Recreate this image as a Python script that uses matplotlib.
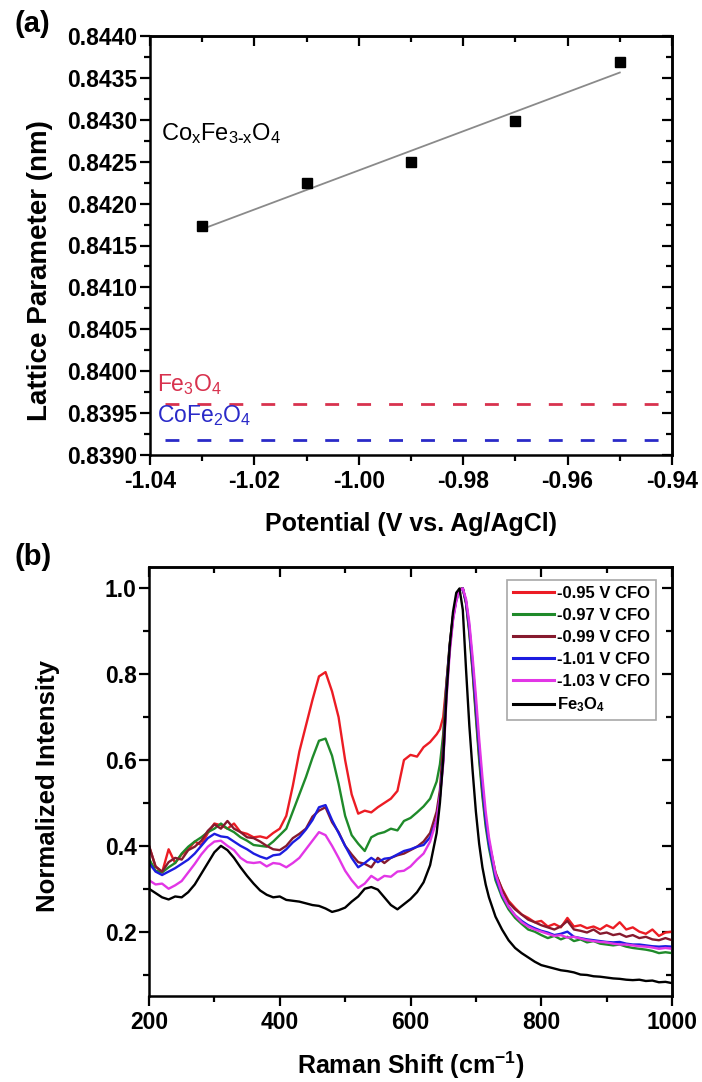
import numpy as np
import matplotlib
matplotlib.use("Agg")
import matplotlib.pyplot as plt
from matplotlib.ticker import MultipleLocator, FormatStrFormatter

plt.rcParams.update({
    "font.family": ["Liberation Sans", "DejaVu Sans"],
    "font.weight": "bold",
    "axes.unicode_minus": False,
    "mathtext.fontset": "custom",
    "mathtext.rm": "Liberation Sans",
    "mathtext.it": "Liberation Sans:italic",
    "mathtext.bf": "Liberation Sans:bold",
    "mathtext.default": "regular",
    "axes.linewidth": 1.8,
})

# ── (a) lattice parameter vs deposition potential ────────────────────────────
POTENTIAL = [-1.03, -1.01, -0.99, -0.97, -0.95]          # V vs Ag/AgCl
LATTICE = [0.84173, 0.84224, 0.84250, 0.84299, 0.84369]  # nm
A_FE3O4 = 0.83961     # bulk magnetite
A_COFE2O4 = 0.83918   # bulk cobalt ferrite

# ── (b) Raman spectra, normalized to the A1g band ────────────────────────────
RAMAN_SHIFT = np.r_[200:641:10, 645:721:5, 730:1001:10]   # cm-1

I_095 = [0.400, 0.352, 0.338, 0.392, 0.360, 0.380, 0.392, 0.410, 0.402, 0.430,
         0.452, 0.448, 0.440, 0.452, 0.432, 0.428, 0.420, 0.422, 0.418, 0.430,
         0.440, 0.470, 0.540, 0.620, 0.680, 0.740, 0.795, 0.805, 0.760, 0.700,
         0.600, 0.520, 0.475, 0.482, 0.478, 0.490, 0.500, 0.510, 0.528, 0.600,
         0.612, 0.608, 0.630, 0.642, 0.660,
         0.672, 0.700, 0.780, 0.860, 0.930, 0.975, 0.998, 1.000, 0.965, 0.900,
         0.810, 0.710, 0.610, 0.525, 0.455, 0.405,
         0.335, 0.300, 0.272, 0.255, 0.240, 0.232, 0.222, 0.225, 0.212, 0.218,
         0.210, 0.232, 0.212, 0.215, 0.208, 0.212, 0.205, 0.215, 0.208, 0.222,
         0.205, 0.210, 0.200, 0.195, 0.205, 0.190, 0.198, 0.200]

I_097 = [0.370, 0.342, 0.338, 0.350, 0.360, 0.382, 0.398, 0.410, 0.420, 0.432,
         0.440, 0.452, 0.440, 0.432, 0.420, 0.412, 0.402, 0.400, 0.398, 0.410,
         0.425, 0.440, 0.480, 0.520, 0.560, 0.605, 0.645, 0.650, 0.610, 0.545,
         0.470, 0.425, 0.405, 0.388, 0.420, 0.428, 0.432, 0.440, 0.436, 0.458,
         0.465, 0.478, 0.492, 0.510, 0.550,
         0.590, 0.660, 0.780, 0.870, 0.935, 0.975, 0.998, 1.000, 0.965, 0.895,
         0.805, 0.700, 0.600, 0.515, 0.445, 0.395,
         0.320, 0.280, 0.252, 0.232, 0.218, 0.205, 0.200, 0.192, 0.185, 0.190,
         0.182, 0.188, 0.178, 0.182, 0.175, 0.178, 0.172, 0.170, 0.168, 0.170,
         0.165, 0.162, 0.160, 0.158, 0.155, 0.150, 0.152, 0.150]

I_099 = [0.400, 0.352, 0.340, 0.362, 0.372, 0.368, 0.390, 0.398, 0.412, 0.435,
         0.450, 0.440, 0.458, 0.440, 0.432, 0.420, 0.418, 0.410, 0.400, 0.392,
         0.390, 0.400, 0.418, 0.428, 0.440, 0.468, 0.482, 0.490, 0.455, 0.432,
         0.400, 0.380, 0.362, 0.358, 0.350, 0.372, 0.360, 0.372, 0.378, 0.382,
         0.390, 0.398, 0.410, 0.430, 0.480,
         0.530, 0.640, 0.775, 0.870, 0.935, 0.975, 0.998, 1.000, 0.968, 0.905,
         0.818, 0.720, 0.620, 0.535, 0.462, 0.410,
         0.338, 0.298, 0.268, 0.252, 0.240, 0.228, 0.222, 0.215, 0.210, 0.205,
         0.212, 0.225, 0.205, 0.202, 0.198, 0.205, 0.195, 0.198, 0.192, 0.195,
         0.188, 0.192, 0.185, 0.188, 0.182, 0.180, 0.185, 0.180]

I_101 = [0.360, 0.340, 0.332, 0.340, 0.348, 0.358, 0.368, 0.382, 0.400, 0.418,
         0.428, 0.422, 0.420, 0.410, 0.400, 0.392, 0.382, 0.375, 0.370, 0.378,
         0.380, 0.392, 0.408, 0.420, 0.438, 0.460, 0.490, 0.495, 0.460, 0.430,
         0.400, 0.372, 0.350, 0.360, 0.372, 0.362, 0.370, 0.372, 0.380, 0.388,
         0.392, 0.398, 0.402, 0.420, 0.460,
         0.515, 0.600, 0.760, 0.862, 0.930, 0.972, 0.996, 1.000, 0.970, 0.910,
         0.825, 0.730, 0.630, 0.540, 0.462, 0.405,
         0.328, 0.285, 0.258, 0.238, 0.225, 0.215, 0.208, 0.202, 0.198, 0.192,
         0.195, 0.200, 0.188, 0.185, 0.182, 0.180, 0.178, 0.176, 0.175, 0.176,
         0.172, 0.170, 0.170, 0.168, 0.166, 0.165, 0.166, 0.165]

I_103 = [0.320, 0.310, 0.312, 0.300, 0.308, 0.318, 0.338, 0.358, 0.380, 0.398,
         0.410, 0.412, 0.400, 0.390, 0.372, 0.362, 0.360, 0.362, 0.352, 0.360,
         0.358, 0.350, 0.360, 0.372, 0.392, 0.412, 0.432, 0.425, 0.400, 0.372,
         0.342, 0.320, 0.302, 0.312, 0.330, 0.320, 0.330, 0.328, 0.340, 0.342,
         0.352, 0.368, 0.382, 0.410, 0.460,
         0.515, 0.590, 0.740, 0.850, 0.925, 0.970, 0.996, 1.000, 0.975, 0.920,
         0.840, 0.750, 0.650, 0.560, 0.480, 0.420,
         0.335, 0.288, 0.258, 0.238, 0.222, 0.212, 0.205, 0.200, 0.195, 0.190,
         0.192, 0.186, 0.188, 0.184, 0.180, 0.178, 0.176, 0.175, 0.172, 0.170,
         0.170, 0.168, 0.166, 0.165, 0.163, 0.160, 0.162, 0.160]

I_FE3O4 = [0.300, 0.290, 0.280, 0.275, 0.282, 0.280, 0.292, 0.310, 0.335, 0.360,
           0.385, 0.400, 0.390, 0.372, 0.350, 0.330, 0.312, 0.296, 0.286, 0.280,
           0.282, 0.274, 0.272, 0.270, 0.266, 0.262, 0.260, 0.254, 0.246, 0.250,
           0.256, 0.270, 0.282, 0.300, 0.304, 0.298, 0.280, 0.262, 0.252, 0.264,
           0.276, 0.292, 0.315, 0.355, 0.430,
           0.500, 0.600, 0.750, 0.865, 0.945, 0.990, 1.000, 0.950, 0.810, 0.680,
           0.575, 0.480, 0.405, 0.350, 0.310, 0.280,
           0.235, 0.205, 0.180, 0.162, 0.150, 0.140, 0.130, 0.122, 0.118, 0.114,
           0.110, 0.108, 0.105, 0.100, 0.099, 0.096, 0.095, 0.093, 0.091, 0.090,
           0.088, 0.087, 0.088, 0.085, 0.086, 0.082, 0.083, 0.080]

SPECTRA = [I_095, I_097, I_099, I_101, I_103, I_FE3O4]
LABELS = ["-0.95 V CFO", "-0.97 V CFO", "-0.99 V CFO", "-1.01 V CFO", "-1.03 V CFO",
          r"Fe$_\mathbf{3}$O$_\mathbf{4}$"]
COLORS = ["#ec1c24", "#1f8a2a", "#861a2e", "#1c1ce0", "#e236e6", "#000000"]

TICK_FS = 16.5
W, H = 702, 1082


def frame(ax, xmaj, xmin, ymaj, ymin, yfmt, xfmt):
    """Origin-style box: outward ticks on bottom/left, inward on top/right."""
    for axis, maj, mn, fmt in ((ax.xaxis, xmaj, xmin, xfmt), (ax.yaxis, ymaj, ymin, yfmt)):
        axis.set_major_locator(MultipleLocator(maj))
        axis.set_minor_locator(MultipleLocator(mn))
        axis.set_major_formatter(FormatStrFormatter(fmt))
    ax.tick_params(which="both", direction="out", top=False, right=False, width=1.6,
                   labelsize=TICK_FS)
    ax.tick_params(which="major", length=7)
    ax.tick_params(which="minor", length=4)
    ax.tick_params(axis="y", pad=2)
    ax.tick_params(axis="x", pad=4)
    top = ax.secondary_xaxis("top")
    right = ax.secondary_yaxis("right")
    for sec, axis, maj, mn in ((top, top.xaxis, xmaj, xmin), (right, right.yaxis, ymaj, ymin)):
        axis.set_major_locator(MultipleLocator(maj))
        axis.set_minor_locator(MultipleLocator(mn))
        sec.tick_params(which="both", direction="in", width=1.6,
                        labeltop=False, labelright=False)
        sec.tick_params(which="major", length=7)
        sec.tick_params(which="minor", length=4)
    for s in ax.spines.values():
        s.set_linewidth(1.8)


fig = plt.figure(figsize=(W / 100, H / 100), dpi=100)

# ── panel (a) ──
ax1 = fig.add_axes([150 / W, 1 - 455 / H, 522 / W, 419 / H])
fit = np.polyfit(POTENTIAL, LATTICE, 1)
ax1.plot(POTENTIAL, np.polyval(fit, POTENTIAL), color="#8a8a8a", lw=1.3, zorder=2)
ax1.plot(POTENTIAL, LATTICE, ls="none", marker="s", ms=6.5, color="black", zorder=3)
ax1.axhline(A_FE3O4, xmin=0.028, xmax=1, color="#d8324e", lw=2.0, dashes=(5, 6.5))
ax1.axhline(A_COFE2O4, xmin=0.028, xmax=1, color="#2a2ac8", lw=2.0, dashes=(5, 6.5))
ax1.text(-1.0379, 0.84276, r"Co$_x$Fe$_{3\text{-}x}$O$_4$", fontsize=17,
         fontweight="normal", ha="left", va="baseline")
ax1.text(-1.0387, 0.83976, r"Fe$_3$O$_4$", fontsize=16.5, fontweight="normal",
         color="#d8324e", ha="left", va="baseline")
ax1.text(-1.0387, 0.83939, r"CoFe$_2$O$_4$", fontsize=16.5, fontweight="normal",
         color="#2a2ac8", ha="left", va="baseline")
ax1.set_xlim(-1.04, -0.94)
ax1.set_ylim(0.8390, 0.8440)
frame(ax1, 0.02, 0.01, 0.0005, 0.00025, "%.4f", "%.2f")
ax1.set_ylabel("Lattice Parameter (nm)", fontsize=20, fontweight="bold")
ax1.yaxis.set_label_coords(-0.186, 0.44)
ax1.set_xlabel("Potential (V vs. Ag/AgCl)", fontsize=18, fontweight="bold")
ax1.xaxis.set_label_coords(0.5, -0.136)

# ── panel (b) ──
ax2 = fig.add_axes([149 / W, 1 - 996 / H, 523 / W, 429 / H])
for y, lab, c in zip(SPECTRA, LABELS, COLORS):
    ax2.plot(RAMAN_SHIFT, y, color=c, lw=1.7, label=lab)
ax2.set_xlim(200, 1000)
ax2.set_ylim(0.05, 1.05)
frame(ax2, 200, 100, 0.2, 0.1, "%.1f", "%d")
ax2.set_ylabel("Normalized Intensity", fontsize=18.5, fontweight="bold")
ax2.yaxis.set_label_coords(-0.17, 0.49)
ax2.set_xlabel(r"Raman Shift (cm$^{\mathbf{-1}}$)", fontsize=18, fontweight="bold")
ax2.xaxis.set_label_coords(0.5, -0.124)
leg = ax2.legend(loc="upper right", bbox_to_anchor=(0.969, 0.970), borderaxespad=0,
                 frameon=True, fancybox=False, framealpha=1,
                 edgecolor="#a8a8a8", handlelength=2.5, handletextpad=0.15,
                 labelspacing=0.42, borderpad=0.35, prop={"weight": "bold", "size": 12})
leg.get_frame().set_linewidth(1.2)
for ln in leg.get_lines():
    ln.set_linewidth(2.2)

fig.text(14 / W, 1 - 24 / H, "(a)", fontsize=21, fontweight="bold", ha="left", va="center")
fig.text(14 / W, 1 - 557 / H, "(b)", fontsize=21, fontweight="bold", ha="left", va="center")

fig.savefig("out.png", dpi=100)
